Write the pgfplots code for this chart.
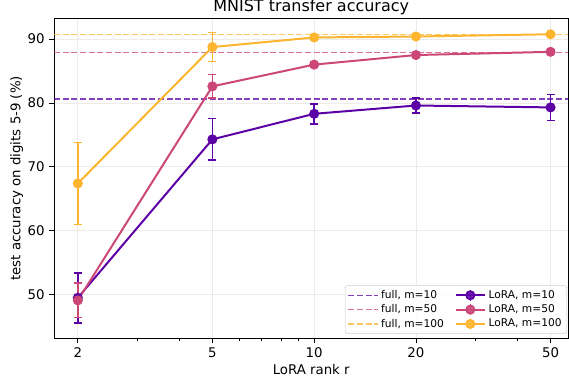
\documentclass[border=0pt]{standalone}
\usepackage{fontspec}
\setmainfont{DejaVu Sans}
\usepackage{pgfplots}
\pgfplotsset{compat=1.18}
\usetikzlibrary{calc}
\definecolor{c10}{HTML}{5C01A6}
\definecolor{c50}{HTML}{CC4778}
\definecolor{c100}{HTML}{FDB42F}
\pgfplotsset{
  fullline/.style={line width=1.1pt, opacity=0.75, dash pattern=on 4.5pt off 2pt},
  lora/.style={line width=1.5pt, mark=*, mark size=3pt, mark options={solid},
    error bars/y dir=both, error bars/y explicit,
    error bars/error bar style={line width=1.2pt, solid},
    error bars/error mark options={rotate=90, mark size=3pt, line width=1.2pt}},
  loralegend/.style={legend image code/.code={
    \draw[mark repeat=2,mark phase=2] plot coordinates {(0pt,0pt) (11pt,0pt) (22pt,0pt)};
    \draw[mark=none, line width=1.2pt] (11pt,-4pt) -- (11pt,4pt);
  }},
  fulllegend/.style={legend image code/.code={
    \draw (0pt,0pt) -- (22pt,0pt);
  }}
}
\begin{document}
\begin{tikzpicture}
\begin{axis}[
  scale only axis,
  width=386.25pt, height=240.75pt,
  xmode=log, log basis x=10,
  xmin=1.70, xmax=56.5, ymin=43.1, ymax=93.3,
  xtick={2,5,10,20,50}, xticklabels={2,5,10,20,50},
  minor xtick={3,4,6,7,8,9,30,40},
  ytick={50,60,70,80,90},
  grid=major, major grid style={line width=0.6pt, color=black!8},
  tick align=outside, tick pos=left,
  major tick length=3.5pt, minor tick length=2pt,
  every tick/.style={black, line width=0.6pt},
  axis line style={black, line width=0.6pt},
  ticklabel style={font=\fontsize{10}{12}\selectfont},
  /pgf/number format/assume math mode=true,
  title={MNIST transfer accuracy},
  every axis title/.style={font=\fontsize{12}{14}\selectfont, at={(rel axis cs:0.5,1)}, anchor=base, yshift=4.5pt, inner sep=0pt},
  xlabel={LoRA rank r},
  ylabel={test accuracy on digits 5-9 (\%)},
  every axis x label/.style={at={(rel axis cs:0.5,0)}, anchor=center, yshift=-23.5pt, font=\fontsize{10}{12}\selectfont},
  every axis y label/.style={xshift=-28pt, at={(rel axis cs:0,0.5)}, rotate=90, anchor=center, font=\fontsize{10}{12}\selectfont},
  legend columns=2,
  legend style={at={(rel axis cs:0.997,0.0156)}, anchor=south east, outer sep=0pt,
    font=\fontsize{8}{10}\selectfont, draw=black!20, rounded corners=2pt,
    fill=white, fill opacity=0.8, text opacity=1,
    inner xsep=2pt, inner ysep=1.5pt, row sep=-0.8pt,
    /tikz/every even column/.append style={column sep=6pt}},
  legend cell align=left,
]
% order: full10, LoRA10, full50, LoRA50, full100, LoRA100 (row-wise legend)
\addplot[c10, fullline, fulllegend] coordinates {(1.70,80.6) (56.5,80.6)};
\addlegendentry{full, m=10}
\addplot[c10, lora, loralegend] table[x=r, y=acc, y error=err] {
r acc err
2 49.5 3.9
5 74.3 3.25
10 78.3 1.55
20 79.6 1.2
50 79.3 2.05
};
\addlegendentry{LoRA, m=10}
\addplot[c50, fullline, fulllegend] coordinates {(1.70,87.9) (56.5,87.9)};
\addlegendentry{full, m=50}
\addplot[c50, lora, loralegend] table[x=r, y=acc, y error=err] {
r acc err
2 49.1 2.7
5 82.6 1.85
10 86.0 0.4
20 87.5 0.3
50 88.0 0.25
};
\addlegendentry{LoRA, m=50}
\addplot[c100, fullline, fulllegend] coordinates {(1.70,90.7) (56.5,90.7)};
\addlegendentry{full, m=100}
\addplot[c100, lora, loralegend] table[x=r, y=acc, y error=err] {
r acc err
2 67.4 6.4
5 88.75 2.25
10 90.25 0.3
20 90.4 0.3
50 90.75 0.25
};
\addlegendentry{LoRA, m=100}
\coordinate (sw) at (rel axis cs:0,0);
\coordinate (ne) at (rel axis cs:1,1);
\end{axis}
\pgfresetboundingbox
\useasboundingbox ($(sw)+(-40.5pt,-34.5pt)$) rectangle ($(ne)+(0.4pt,13.5pt)$);
\end{tikzpicture}
\end{document}
